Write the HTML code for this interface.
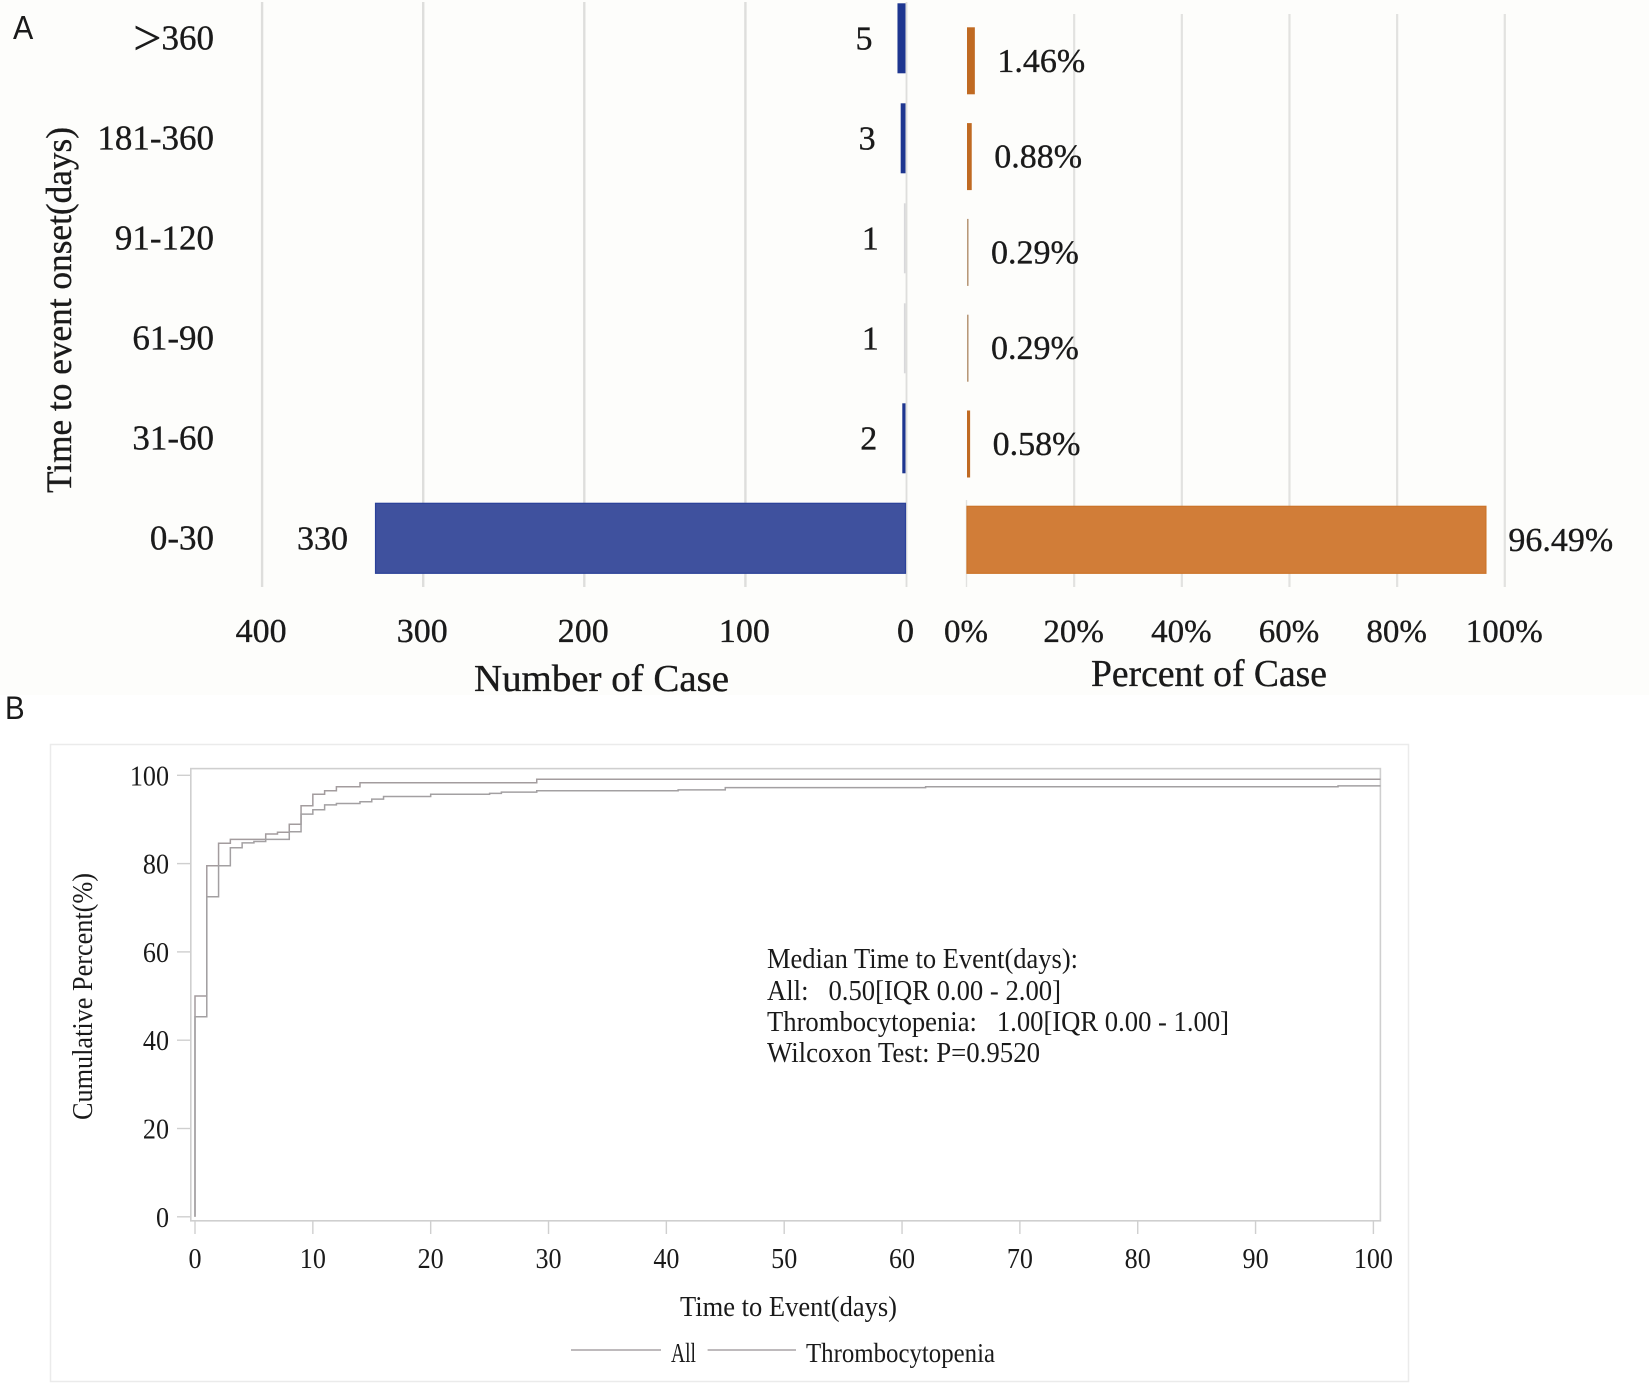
<!DOCTYPE html>
<html lang="en">
<head>
<meta charset="utf-8">
<title>Time to event onset and cumulative percent</title>
<style>
html,body{margin:0;padding:0;background:#fff;}
svg{display:block;}
text{font-family:"Liberation Serif",serif;fill:#1a1a1a;}
.panel-letter{font-family:"Liberation Sans",sans-serif;}
.heavy{stroke:#1a1a1a;stroke-width:0.35;}
</style>
</head>
<body>
<svg id="figure" xmlns="http://www.w3.org/2000/svg" width="1649" height="1390" viewBox="0 0 1649 1390">
  <rect x="0" y="0" width="1649" height="695" fill="#fdfdfb"/>
  <rect x="0" y="695" width="1649" height="695" fill="#ffffff"/>
  <text class="panel-letter" transform="translate(13,39) scale(0.92,1.02)" font-size="33">A</text>
  <text class="panel-letter" transform="translate(5,719) scale(0.92,1)" font-size="32">B</text>

  <g id="panelA"></g>
  <text class="heavy" transform="translate(71,493) rotate(-90)" font-size="36" textLength="366" lengthAdjust="spacingAndGlyphs">Time to event onset(days)</text>
  <text class="heavy" x="474" y="691" font-size="38" textLength="255" lengthAdjust="spacingAndGlyphs">Number of Case</text>
  <text class="heavy" x="1091" y="686" font-size="38" textLength="236" lengthAdjust="spacingAndGlyphs">Percent of Case</text>

  <rect x="50.5" y="744.5" width="1358" height="637" fill="#ffffff" stroke="#ebebeb" stroke-width="1.5"/>
  <rect x="190.8" y="768.6" width="1189.6" height="452.2" fill="none" stroke="#cfcfcf" stroke-width="1.6"/>
  <g id="panelB"></g>

  <text transform="translate(92,1120) rotate(-90)" font-size="28" textLength="247" lengthAdjust="spacingAndGlyphs">Cumulative Percent(%)</text>
  <text x="680" y="1316" font-size="28" textLength="217" lengthAdjust="spacingAndGlyphs">Time to Event(days)</text>

  <g>
    <text x="767" y="968" font-size="28" textLength="311" lengthAdjust="spacingAndGlyphs">Median Time to Event(days):</text>
    <text x="767" y="1000" font-size="28" textLength="294" lengthAdjust="spacingAndGlyphs" xml:space="preserve" style="white-space:pre">All:   0.50[IQR 0.00 - 2.00]</text>
    <text x="767" y="1031" font-size="28" textLength="462" lengthAdjust="spacingAndGlyphs" xml:space="preserve" style="white-space:pre">Thrombocytopenia:   1.00[IQR 0.00 - 1.00]</text>
    <text x="767" y="1062" font-size="28" textLength="273" lengthAdjust="spacingAndGlyphs">Wilcoxon Test: P=0.9520</text>
  </g>

  <g>
    <line x1="571" y1="1350" x2="661" y2="1350" stroke="#a8a4a6" stroke-width="1.5"/>
    <text x="671" y="1362" font-size="27" textLength="25" lengthAdjust="spacingAndGlyphs">All</text>
    <line x1="707.6" y1="1350" x2="796" y2="1350" stroke="#a8a4a6" stroke-width="1.5"/>
    <text x="806" y="1362" font-size="27" textLength="189" lengthAdjust="spacingAndGlyphs">Thrombocytopenia</text>
  </g>
</svg>

<script>
// Panel A data
const categories = ['>360', '181-360', '91-120', '61-90', '31-60', '0-30'];
const caseCounts = [5, 3, 1, 1, 2, 330];
const casePercents = [1.46, 0.88, 0.29, 0.29, 0.58, 96.49];
const countTicks = [400, 300, 200, 100, 0];
const percentTicks = [0, 20, 40, 60, 80, 100];

// Panel B data
const allDays = [0, 1, 2, 3, 6, 7, 8, 9, 10, 11, 12, 14, 29, 100.6];
const allCumulative = [50, 79.5, 84.6, 85.5, 86.7, 87.1, 88.9, 93.1, 95.7, 96.5, 97.4, 98.3, 99.1, 99.1];
const thrombocytopeniaDays = [0, 1, 2, 3, 4, 5, 6, 8, 9, 10, 11, 12, 14, 15, 16, 20, 25, 26, 29, 41, 45, 62, 97, 100.6];
const thrombocytopeniaCumulative = [45.3, 72.5, 79.5, 83.6, 84.7, 85.0, 85.5, 87.2, 91.2, 92.2, 93.3, 93.6, 94.0, 94.6, 95.2, 95.7, 95.9, 96.2, 96.5, 96.7, 97.2, 97.4, 97.6, 97.6];
const dayTicks = [0, 10, 20, 30, 40, 50, 60, 70, 80, 90, 100];
const cumulativeTicks = [0, 20, 40, 60, 80, 100];

// Axis functions
function countX(v) { return 905.5 - v * 1.606; }
function percentX(v) { return 967 + v * 5.378; }
function countRowY(i) { return 37.8 + i * 100; }
function percentRowY(i) { return 60.8 + i * 95.8; }
function dayX(v) { return 195 + v * 11.784; }
function cumulativeY(v) { return 1216.8 - v * 4.415; }

const SVG_NS = 'http://www.w3.org/2000/svg';
const panelA = document.getElementById('panelA');
const panelB = document.getElementById('panelB');

function make(tag, parent, attrs, content) {
  const node = document.createElementNS(SVG_NS, tag);
  for (const key in attrs) node.setAttribute(key, attrs[key]);
  if (content !== undefined) node.textContent = content;
  parent.appendChild(node);
  return node;
}

// Panel A gridlines
countTicks.forEach(function (t) {
  const el = make('line', panelA, { x1: 906.5 - t * 1.611, x2: 906.5 - t * 1.611, y1: 2, y2: 587, stroke: '#dededc', 'stroke-width': t === 0 ? 1.8 : 2.4 });
  
  
});
percentTicks.forEach(function (t) {
  const el = make('line', panelA, { x1: 966.5 + t * 5.383, x2: 966.5 + t * 5.383, y1: t === 0 ? 500 : 14, y2: 587, stroke: '#e2e2e0', 'stroke-width': t === 0 ? 1.4 : 2.2 });
  
  
});

// Panel A tick labels
countTicks.forEach(function (t) {
  const el = make('text', panelA, { x: 905.5 - t * 1.611, y: 642, 'font-size': 34, 'text-anchor': 'middle', class: 'heavy' }, String(t));
  
  
});
percentTicks.forEach(function (t) {
  const el = make('text', panelA, { x: 966 + t * 5.383, y: 642, 'font-size': 33, 'text-anchor': 'middle', class: 'heavy' }, t + '%');
  
  
});

// Panel A categories and bars
categories.forEach(function (c, i) {
  const cat = make('text', panelA, { x: 214, y: countRowY(i) + 11.5, 'font-size': 35, 'text-anchor': 'end', class: 'heavy' });
  
  
  if (c.charAt(0) === '>') {
    make('tspan', cat, { 'font-size': 50, dy: 5 }, '>');
    make('tspan', cat, { dy: -5 }, c.slice(1));
  } else {
    cat.textContent = c;
  }

  const count = caseCounts[i];
  const left = countX(count);
  const countBar = make('rect', panelA, {
    x: left, y: countRowY(i) - 34.5, width: countX(0) - left, height: 70,
    fill: count > 1 ? (count > 20 ? '#3f519e' : '#1e3690') : '#d8d8da',
    stroke: count > 20 ? '#2b4199' : 'none', 'stroke-width': 1.2
  });
  
  

  const countLabel = make('text', panelA, { x: left - (count > 99 ? 27.5 : 25), y: countRowY(i) + 11.5, 'font-size': 34, 'text-anchor': 'end', class: 'heavy' }, String(count));
  
  

  const pct = casePercents[i];
  const right = percentX(pct);
  const pctBar = make('rect', panelA, {
    x: percentX(0), y: percentRowY(i) - 33.5, width: right - percentX(0), height: 67,
    fill: pct > 20 ? '#d17d38' : (pct < 0.5 ? '#b89878' : '#c06a22'),
    stroke: pct > 20 ? '#cc7429' : 'none', 'stroke-width': 1.2
  });
  
  

  const pctLabel = make('text', panelA, { x: right + 22.5, y: percentRowY(i) + 11, 'font-size': 34, class: 'heavy' }, pct.toFixed(2) + '%');
  
  
});

// Panel B axes
dayTicks.forEach(function (t) {
  const tick = make('line', panelB, { x1: dayX(t), x2: dayX(t), y1: 1221, y2: 1234, stroke: '#cfcfcf', 'stroke-width': 1.4 });
  
  
  const label = make('text', panelB, { transform: 'translate(' + dayX(t) + ',1268) scale(0.9,1)', 'font-size': 29, 'text-anchor': 'middle' }, String(t));
  
  
});
cumulativeTicks.forEach(function (t) {
  const tick = make('line', panelB, { x1: 177, x2: 191, y1: cumulativeY(t), y2: cumulativeY(t), stroke: '#cfcfcf', 'stroke-width': 1.4 });
  
  
  const label = make('text', panelB, { transform: 'translate(169,' + (cumulativeY(t) + 10) + ') scale(0.9,1)', 'font-size': 29, 'text-anchor': 'end' }, String(t));
  
  
});

// Panel B step curves
function stepPath(days, values) {
  let d = 'M' + dayX(0) + ' ' + cumulativeY(0) + ' V' + cumulativeY(values[0]);
  for (let i = 1; i < days.length; i++) {
    d += ' H' + dayX(days[i]) + ' V' + cumulativeY(values[i]);
  }
  return d;
}
const allLine = make('path', panelB, { d: stepPath(allDays, allCumulative), fill: 'none', stroke: '#a39c9e', 'stroke-width': 1.5 });


const thrombocytopeniaLine = make('path', panelB, { d: stepPath(thrombocytopeniaDays, thrombocytopeniaCumulative), fill: 'none', stroke: '#a3a0a2', 'stroke-width': 1.5 });


</script>
</body>
</html>
